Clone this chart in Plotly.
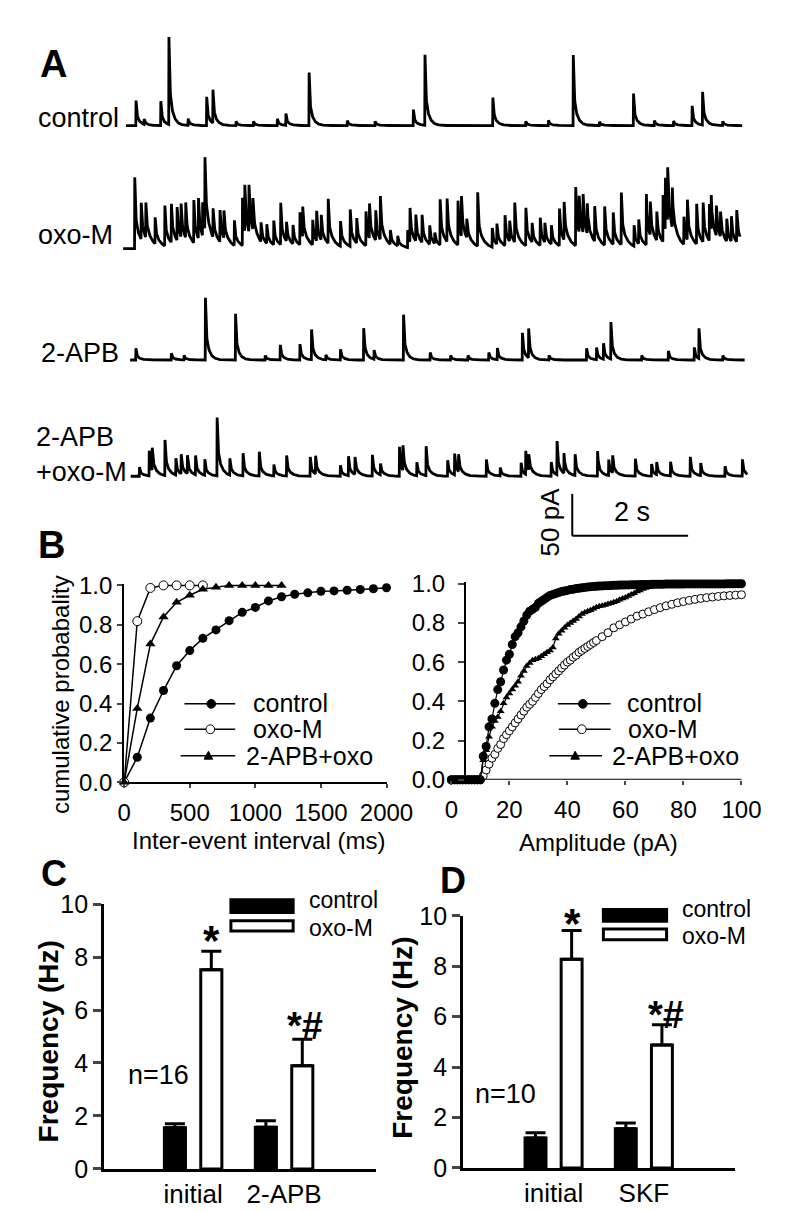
import numpy as np
import plotly.graph_objects as go

W, H = 800, 1212
FONT = "Liberation Sans, Arial, Helvetica, sans-serif"

# ---------------- Panel A: events (time in s, amplitude in pA)
ctrl_t = [0.17, 0.31, 0.60, 0.74, 1.07, 1.39, 1.50, 1.90, 2.20, 2.61, 2.76, 3.16, 3.82, 4.30,
          4.96, 5.16, 6.33, 6.90, 7.29, 7.72, 8.17, 8.76, 9.12, 9.45, 9.77, 9.95, 10.30]
ctrl_a = [33, 7, 29, 104, 9, 38, 40, 5, 5, 9, 14, 63, 6, 5,
          19, 84, 37, 5, 7, 84, 5, 38, 6, 6, 26, 44, 5]

oxo_t = [0.15, 0.26, 0.34, 0.50, 0.67, 0.78, 0.88, 0.95, 1.03, 1.17, 1.25, 1.32, 1.36, 1.50,
         1.62, 1.69, 1.87, 2.01, 2.05, 2.12, 2.19, 2.33, 2.43, 2.55, 2.67, 2.77, 2.88, 3.00,
         3.05, 3.22, 3.29, 3.37, 3.49, 3.70, 3.87, 3.98, 4.14, 4.20, 4.31, 4.39, 4.56, 4.69,
         4.86, 4.90, 5.00, 5.11, 5.24, 5.33, 5.42, 5.54, 5.73, 5.79, 5.88, 6.07, 6.32, 6.40,
         6.54, 6.62, 6.71, 6.90, 7.01, 7.15, 7.23, 7.34, 7.48, 7.56, 7.76, 7.82, 7.89, 7.96,
         8.09, 8.26, 8.41, 8.55, 8.77, 8.85, 8.98, 9.05, 9.16, 9.27, 9.31, 9.35, 9.43, 9.63,
         9.69, 9.85, 9.96, 10.07, 10.10, 10.19, 10.26, 10.37, 10.45, 10.54]
oxo_a = [85, 48, 46, 35, 48, 51, 44, 40, 42, 51, 48, 44, 95, 38,
         42, 33, 30, 57, 56, 62, 38, 23, 23, 29, 50, 23, 25, 43,
         36, 33, 36, 30, 53, 33, 44, 33, 45, 46, 36, 52, 19, 12,
         23, 45, 35, 33, 25, 13, 60, 57, 53, 48, 25, 64, 25, 27,
         40, 27, 47, 50, 23, 33, 23, 25, 49, 50, 77, 48, 46, 40,
         42, 51, 38, 62, 25, 29, 67, 40, 38, 56, 62, 64, 48, 33,
         48, 48, 52, 44, 46, 36, 33, 27, 30, 42]

apb_t = [0.17, 0.78, 1.00, 1.37, 1.89, 2.40, 2.66, 3.00, 3.20, 3.45, 3.70, 4.10, 4.28, 4.79,
         5.25, 5.60, 5.90, 6.26, 6.41, 6.84, 6.95, 7.30, 7.95, 8.12, 8.24, 8.37, 8.90, 9.36,
         9.81, 9.89, 10.30]
apb_a = [14, 9, 6, 74, 55, 6, 20, 21, 40, 6, 14, 42, 12, 54,
         9, 6, 6, 10, 14, 36, 35, 6, 14, 16, 21, 44, 6, 12,
         15, 36, 6]

apbo_t = [0.23, 0.40, 0.45, 0.67, 0.86, 0.95, 1.06, 1.20, 1.36, 1.57, 1.79, 2.02, 2.30, 2.55,
          2.77, 3.18, 3.27, 3.70, 3.84, 3.95, 4.25, 4.39, 4.72, 4.78, 5.02, 5.18, 5.55, 5.67,
          5.74, 6.22, 6.46, 6.82, 6.90, 6.95, 7.34, 7.44, 7.56, 7.75, 8.14, 8.33, 8.40, 8.79,
          9.07, 9.16, 9.40, 9.74, 9.92, 10.34, 10.64]
apbo_a = [12, 30, 30, 47, 20, 26, 22, 23, 19, 77, 22, 27, 29, 15,
          27, 23, 24, 13, 23, 23, 28, 15, 35, 30, 16, 35, 21, 28,
          21, 20, 10, 16, 28, 21, 17, 40, 24, 28, 30, 21, 21, 23,
          16, 15, 17, 23, 15, 12, 20]

trace_labels = ["control", "oxo-M", "2-APB", "2-APB<br>+oxo-M"]
trace_start = [0.00, -0.05, 0.07, 0.08]
trace_end = [10.64, 10.60, 10.68, 10.73]
scale_pA = 50
scale_s = 2

# ---------------- Panel B left: inter-event interval cumulative probability
ie_ms = list(range(0, 2001, 100))
ie_control = [0, 0.127, 0.326, 0.466, 0.592, 0.669, 0.731, 0.774, 0.821, 0.863, 0.888,
              0.921, 0.942, 0.955, 0.962, 0.970, 0.972, 0.975, 0.979, 0.983, 0.988]
ie_oxo_ms = list(range(0, 601, 100))
ie_oxo = [0, 0.818, 0.987, 1.0, 1.0, 1.0, 1.0]
ie_apb_ms = list(range(0, 1201, 100))
ie_apb = [0, 0.375, 0.702, 0.84, 0.914, 0.95, 0.98, 0.99, 1.0, 1.0, 1.0, 1.0, 1.0]

# ---------------- Panel B right: amplitude cumulative probability
amp_pA = list(range(0, 101))
amp_control = [0, 0, 0, 0, 0, 0, 0, 0, 0, 0,
               0, 0.12, 0.17, 0.27, 0.31, 0.39, 0.46, 0.50, 0.56, 0.61,
               0.64, 0.69, 0.73, 0.75, 0.78, 0.81, 0.84, 0.86, 0.87, 0.88,
               0.90, 0.91, 0.92, 0.93, 0.94, 0.945, 0.95, 0.955, 0.96, 0.963,
               0.966, 0.97, 0.972, 0.975, 0.977, 0.979, 0.981, 0.983, 0.985, 0.986,
               0.987, 0.988, 0.989, 0.99, 0.99, 0.991, 0.992, 0.992, 0.993, 0.993,
               0.994, 0.994, 0.995, 0.995, 0.995, 0.996, 0.996, 0.996, 0.996, 0.997,
               0.997, 0.997, 0.997, 0.997, 0.998, 0.998, 0.998, 0.998, 0.998, 0.998,
               0.998, 0.999, 0.999, 0.999, 0.999, 0.999, 0.999, 0.999, 0.999, 0.999,
               0.999, 0.999, 0.999, 0.999, 0.999, 1.0, 1.0, 1.0, 1.0, 1.0,
               1.0]
amp_oxo_pA = list(range(0, 51)) + list(range(52, 101, 2))
amp_oxo = [0, 0, 0, 0, 0, 0, 0, 0, 0, 0,
           0, 0.02, 0.05, 0.08, 0.11, 0.13, 0.16, 0.18, 0.21, 0.23,
           0.25, 0.27, 0.29, 0.31, 0.33, 0.35, 0.37, 0.385, 0.40, 0.42,
           0.44, 0.46, 0.475, 0.49, 0.51, 0.525, 0.54, 0.555, 0.57, 0.585,
           0.60, 0.61, 0.625, 0.635, 0.65, 0.66, 0.67, 0.68, 0.69, 0.70, 0.71,
           0.73, 0.75, 0.775, 0.79, 0.805, 0.82, 0.835, 0.845, 0.857, 0.868,
           0.878, 0.887, 0.895, 0.903, 0.909, 0.915, 0.92, 0.925, 0.929, 0.932,
           0.935, 0.938, 0.94, 0.942, 0.944]
amp_apb = [0, 0, 0, 0, 0, 0, 0, 0, 0, 0,
           0, 0.10, 0.15, 0.22, 0.27, 0.30, 0.32, 0.35, 0.39, 0.42,
           0.44, 0.46, 0.48, 0.50, 0.53, 0.555, 0.58, 0.595, 0.61, 0.615,
           0.62, 0.63, 0.64, 0.65, 0.66, 0.675, 0.72, 0.745, 0.76, 0.775,
           0.79, 0.80, 0.81, 0.82, 0.833, 0.845, 0.853, 0.86, 0.865, 0.872,
           0.88, 0.885, 0.888, 0.892, 0.896, 0.90, 0.905, 0.91, 0.918, 0.925,
           0.93, 0.937, 0.945, 0.952, 0.96, 0.966, 0.973, 0.978, 0.983, 0.986,
           0.988, 0.989, 0.99, 0.99, 0.991, 0.991, 0.992, 0.992, 0.993, 0.993,
           0.994, 0.994, 0.995, 0.995, 0.995, 0.996, 0.996, 0.996, 0.997, 0.997,
           0.997, 0.997, 0.998, 0.998, 0.998, 0.998, 0.999, 0.999, 0.999, 0.999,
           0.999]

# ---------------- Panels C and D: frequency bars (Hz)
c_groups = ["initial", "2-APB"]
c_control = [1.55, 1.57]
c_control_err = [0.15, 0.25]
c_oxo = [7.52, 3.9]
c_oxo_err = [0.70, 1.0]
c_n = "n=16"

d_groups = ["initial", "SKF"]
d_control = [1.19, 1.55]
d_control_err = [0.20, 0.23]
d_oxo = [8.28, 4.88]
d_oxo_err = [1.14, 0.80]
d_n = "n=10"

# ---------------- helpers
def px(x):
    return x / W


def py(y):
    return 1 - y / H


def ann(text, x, y, size, bold=False, xanchor="center", yanchor="middle", angle=0):
    return dict(text=("<b>%s</b>" % text) if bold else text, x=px(x), y=py(y),
                xref="paper", yref="paper", showarrow=False, textangle=angle,
                font=dict(family=FONT, size=size, color="black"),
                xanchor=xanchor, yanchor=yanchor, align="left")


DT = 0.004
FAST, TAU_FAST = 0.55, 0.012
TAU_SLOW = [0.06, 0.09, 0.06, 0.07]


def build_trace(t0, t1, ev_t, ev_a, tau_slow):
    t = np.arange(t0, t1, DT)
    y = np.zeros_like(t)
    for te, a in zip(ev_t, ev_a):
        d = t - te
        m = d >= 0
        y[m] += a * (FAST * np.exp(-d[m] / TAU_FAST) + (1 - FAST) * np.exp(-d[m] / tau_slow))
    return t, y


fig = go.Figure()

# ---------------- Panel A
A_PX0, A_PXS = 116, 60.5          # x pixel of t=0, pixels per second
A_BOTTOM, PX_PER_PA = 540, 0.86
base_px = [106, 232, 346, 465]
events = [(ctrl_t, ctrl_a), (oxo_t, oxo_a), (apb_t, apb_a), (apbo_t, apbo_a)]
for i, (et, ea) in enumerate(events):
    t, y = build_trace(trace_start[i], trace_end[i], et, ea, TAU_SLOW[i])
    off = (A_BOTTOM - base_px[i]) / PX_PER_PA
    fig.add_trace(go.Scatter(x=t, y=y + off, mode="lines", line=dict(color="black", width=2.8),
                             xaxis="x", yaxis="y", showlegend=False, hoverinfo="skip"))

sb_t0 = (582 - A_PX0) / A_PXS
sb_v0 = (A_BOTTOM - 526) / PX_PER_PA
shapes = [
    dict(type="line", xref="x", yref="y", x0=sb_t0, x1=sb_t0, y0=sb_v0, y1=sb_v0 + scale_pA,
         line=dict(color="black", width=2)),
    dict(type="line", xref="x", yref="y", x0=sb_t0, x1=sb_t0 + scale_s, y0=sb_v0, y1=sb_v0,
         line=dict(color="black", width=2)),
]

# ---------------- Panel B left
fig.add_trace(go.Scatter(x=ie_ms, y=ie_control, mode="lines+markers", xaxis="x2", yaxis="y2",
                         line=dict(color="black", width=1.5),
                         marker=dict(symbol="circle", size=9, color="black"),
                         cliponaxis=False, showlegend=False))
fig.add_trace(go.Scatter(x=ie_oxo_ms, y=ie_oxo, mode="lines+markers", xaxis="x2", yaxis="y2",
                         line=dict(color="black", width=1.5),
                         marker=dict(symbol="circle", size=9, color="white",
                                     line=dict(color="black", width=1)),
                         cliponaxis=False, showlegend=False))
fig.add_trace(go.Scatter(x=ie_apb_ms, y=ie_apb, mode="lines+markers", xaxis="x2", yaxis="y2",
                         line=dict(color="black", width=1.5),
                         marker=dict(symbol="triangle-up", size=9, color="black"),
                         cliponaxis=False, showlegend=False))

# ---------------- Panel B right
fig.add_trace(go.Scatter(x=amp_oxo_pA, y=amp_oxo, mode="lines+markers", xaxis="x3", yaxis="y3",
                         line=dict(color="black", width=1.2),
                         marker=dict(symbol="circle", size=8, color="white",
                                     line=dict(color="black", width=1)),
                         cliponaxis=False, showlegend=False))
fig.add_trace(go.Scatter(x=amp_pA, y=amp_apb, mode="lines+markers", xaxis="x3", yaxis="y3",
                         line=dict(color="black", width=1.2),
                         marker=dict(symbol="triangle-up", size=7, color="black"),
                         cliponaxis=False, showlegend=False))
fig.add_trace(go.Scatter(x=amp_pA, y=amp_control, mode="lines+markers", xaxis="x3", yaxis="y3",
                         line=dict(color="black", width=1.2),
                         marker=dict(symbol="circle", size=9, color="black"),
                         cliponaxis=False, showlegend=False))
shapes.append(dict(type="line", xref="x3", yref="y3", x0=4.7, x1=100, y0=0, y1=0, layer="below",
                   line=dict(color="black", width=2)))


# ---------------- Panels C & D bars
def bars(groups, ctrl, ctrl_err, oxo, oxo_err, xa, ya):
    fig.add_trace(go.Bar(x=groups, y=ctrl, xaxis=xa, yaxis=ya, showlegend=False,
                         marker=dict(color="black", line=dict(color="black", width=3)),
                         error_y=dict(type="data", array=ctrl_err, arrayminus=[0] * len(ctrl),
                                      symmetric=False, color="black", thickness=3, width=10)))
    fig.add_trace(go.Bar(x=groups, y=oxo, xaxis=xa, yaxis=ya, showlegend=False,
                         marker=dict(color="white", line=dict(color="black", width=3)),
                         error_y=dict(type="data", array=oxo_err, arrayminus=[0] * len(oxo),
                                      symmetric=False, color="black", thickness=3, width=10)))


bars(c_groups, c_control, c_control_err, c_oxo, c_oxo_err, "x4", "y4")
bars(d_groups, d_control, d_control_err, d_oxo, d_oxo_err, "x5", "y5")


# ---------------- manual legends
def leg_line(x0, x1, y):
    shapes.append(dict(type="line", xref="paper", yref="paper", x0=px(x0), x1=px(x1),
                       y0=py(y), y1=py(y), line=dict(color="black", width=1.5)))


def leg_circle(cx, cy, r, fill):
    shapes.append(dict(type="circle", xref="paper", yref="paper", x0=px(cx - r), x1=px(cx + r),
                       y0=py(cy + r), y1=py(cy - r), fillcolor=fill,
                       line=dict(color="black", width=1)))


def leg_tri(cx, cy, s):
    path = "M %f,%f L %f,%f L %f,%f Z" % (px(cx - s), py(cy + s * 0.8), px(cx + s), py(cy + s * 0.8),
                                         px(cx), py(cy - s))
    shapes.append(dict(type="path", xref="paper", yref="paper", path=path, fillcolor="black",
                       line=dict(color="black", width=1)))


def leg_rect(x0, x1, y0, y1, fill):
    shapes.append(dict(type="rect", xref="paper", yref="paper", x0=px(x0), x1=px(x1),
                       y0=py(y1), y1=py(y0), fillcolor=fill, line=dict(color="black", width=3)))


annotations = []
# B left legend
leg_line(177, 230, 698); leg_circle(205, 698, 4.5, "black")
leg_line(177, 230, 724); leg_circle(204, 724, 4.5, "white")
leg_line(173, 230, 751); leg_tri(202, 751, 4.5)
annotations += [ann("control", 246, 697, 25, xanchor="left"),
                ann("oxo-M", 246, 724, 25, xanchor="left"),
                ann("2-APB+oxo", 239, 751, 25, xanchor="left")]
# B right legend
leg_line(567, 622, 698); leg_circle(593, 698, 4.5, "black")
leg_line(568, 622, 724); leg_circle(592, 724, 4.5, "white")
leg_line(558, 613, 751); leg_tri(585, 751, 4.5)
annotations += [ann("control", 637, 697, 25, xanchor="left"),
                ann("oxo-M", 638, 724, 25, xanchor="left"),
                ann("2-APB+oxo", 621, 751, 25, xanchor="left")]
# C legend
leg_rect(225.5, 290.5, 898.5, 911.5, "black")
leg_rect(225.5, 290.5, 920, 930.5, "white")
annotations += [ann("control", 305, 899, 23, xanchor="left"),
                ann("oxo-M", 305, 927, 23, xanchor="left")]
# D legend
leg_rect(614.5, 680.5, 908.5, 920.5, "black")
leg_rect(614.5, 680.5, 928.5, 939.5, "white")
annotations += [ann("control", 695, 908, 23, xanchor="left"),
                ann("oxo-M", 695, 936, 23, xanchor="left")]

# ---------------- text
annotations += [
    ann("A", 40, 43, 38, bold=True), ann("B", 38, 535, 38, bold=True),
    ann("C", 41, 872, 36, bold=True), ann("D", 457, 879, 36, bold=True),
    ann(trace_labels[0], 22, 98, 27, xanchor="left"),
    ann(trace_labels[1], 22, 218, 27, xanchor="left"),
    ann(trace_labels[2], 25, 339, 27, xanchor="left"),
    ann(trace_labels[3], 20, 443, 27, xanchor="left"),
    ann("%d pA" % scale_pA, 559, 512, 26, angle=-90),
    ann("%d s" % scale_s, 644, 502, 27),
    ann("cumulative probabality", 47, 689, 24, angle=-90),
    ann("Inter-event interval (ms)", 254, 838, 24),
    ann("Amplitude (pA)", 609, 840, 24),
    ann("Frequency (Hz)", 35, 1044, 28, bold=True, angle=-90),
    ann("Frequency (Hz)", 405, 1040, 28, bold=True, angle=-90),
    ann("*", 205, 940, 42, bold=True),
    ann("*#", 303, 1028, 38, bold=True),
    ann(c_n, 150, 1078, 27),
    ann("*", 582, 923, 42, bold=True),
    ann("*#", 680, 1016, 38, bold=True),
    ann(d_n, 512, 1097, 27),
]

axis_font = dict(family=FONT, size=24, color="black")
big_font = dict(family=FONT, size=25, color="black")
cat_font = dict(family=FONT, size=26, color="black")

fig.update_layout(
    width=W, height=H, margin=dict(l=0, r=0, t=0, b=0),
    paper_bgcolor="white", plot_bgcolor="rgba(0,0,0,0)",
    font=dict(family=FONT, color="black"),
    showlegend=False, barmode="group", bargap=0.2, bargroupgap=0.42,
    shapes=shapes, annotations=annotations,
    xaxis=dict(domain=[0, 1], range=[-A_PX0 / A_PXS, (W - A_PX0) / A_PXS], visible=False,
               anchor="y"),
    yaxis=dict(domain=[py(A_BOTTOM), 1], range=[0, A_BOTTOM / PX_PER_PA], visible=False,
               anchor="x"),
    xaxis2=dict(domain=[px(114), px(388)], range=[0, 2000], anchor="y2",
                tickvals=[0, 500, 1000, 1500, 2000], ticks="outside", ticklen=4, tickwidth=2,
                showline=True, linewidth=2, linecolor="black", showgrid=False, zeroline=False,
                tickfont=axis_font, ticklabelstandoff=4),
    yaxis2=dict(domain=[py(778.3), py(575)], range=[0, (778.3 - 575) / 201.6], anchor="x2",
                tickvals=[0, 0.2, 0.4, 0.6, 0.8, 1.0], tickformat=".1f", ticks="outside",
                ticklen=5, tickwidth=2, showline=True, linewidth=2, linecolor="black",
                showgrid=False, zeroline=False, tickfont=axis_font),
    xaxis3=dict(domain=[px(440), px(762)], range=[(440 - 455.7) / 3.03, (762 - 455.7) / 3.03],
                anchor="y3", tickvals=[0, 20, 40, 60, 80, 100], ticks="outside", ticklen=4,
                tickwidth=2, showline=False, showgrid=False, zeroline=False, tickfont=axis_font,
                ticklabelstandoff=4),
    yaxis3=dict(domain=[py(775.7), py(775.7 - 1.008 * 200.7)], range=[0, 1.008],
                anchor="free", position=px(470),
                tickvals=[0, 0.2, 0.4, 0.6, 0.8, 1.0], tickformat=".1f", ticks="outside",
                ticklen=6, tickwidth=2, showline=True, linewidth=2, linecolor="black",
                showgrid=False, zeroline=False, tickfont=axis_font, ticklabelstandoff=8),
    xaxis4=dict(domain=[px(93), px(377)], type="category", range=[-0.979, 2.01], anchor="y4",
                ticks="", showline=True, linewidth=3, linecolor="black", showgrid=False,
                zeroline=False, tickfont=cat_font, ticklabelstandoff=0),
    yaxis4=dict(domain=[py(1174), py(903)], range=[0, 10], anchor="x4",
                tickvals=[0, 2, 4, 6, 8, 10], ticks="outside", ticklen=8, tickwidth=3,
                showline=True, linewidth=3, linecolor="black", showgrid=False, zeroline=False,
                tickfont=big_font),
    xaxis5=dict(domain=[px(468), px(752)], type="category", range=[-1.002, 2.01], anchor="y5",
                ticks="", showline=True, linewidth=3, linecolor="black", showgrid=False,
                zeroline=False, tickfont=cat_font, ticklabelstandoff=0),
    yaxis5=dict(domain=[py(1173), py(915)], range=[0, 10], anchor="x5",
                tickvals=[0, 2, 4, 6, 8, 10], ticks="outside", ticklen=8, tickwidth=3,
                showline=True, linewidth=3, linecolor="black", showgrid=False, zeroline=False,
                tickfont=big_font),
)

fig.write_html("out.html")
